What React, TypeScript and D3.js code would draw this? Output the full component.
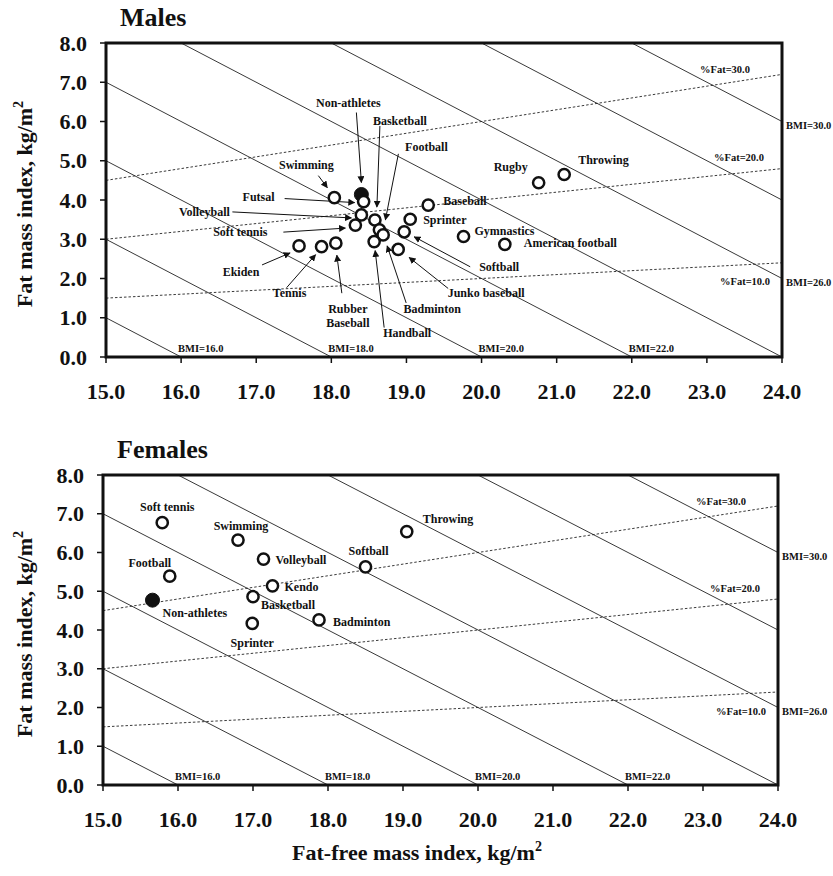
import * as React from 'react'
import * as d3 from 'd3'

// FFMI (x) and FMI (y) in kg/m2
const MALE_SPORTS = [
  'Non-athletes', 'Swimming', 'Futsal', 'Volleyball', 'Soft tennis', 'Basketball', 'Football',
  'Badminton', 'Handball', 'Sprinter', 'Softball', 'Baseball', 'Gymnastics', 'Junko baseball',
  'Ekiden', 'Tennis', 'Rubber baseball', 'American football', 'Rugby', 'Throwing',
]
const MALE_FFMI = [18.40, 18.04, 18.43, 18.40, 18.32, 18.58, 18.64, 18.69, 18.57, 19.05, 18.97, 19.29, 19.76, 18.89, 17.57, 17.87, 18.06, 20.31, 20.76, 21.10]
const MALE_FMI = [4.14, 4.06, 3.96, 3.62, 3.36, 3.49, 3.24, 3.11, 2.94, 3.51, 3.19, 3.87, 3.07, 2.74, 2.83, 2.81, 2.90, 2.87, 4.44, 4.65]

const FEMALE_SPORTS = [
  'Non-athletes', 'Soft tennis', 'Swimming', 'Football', 'Volleyball', 'Kendo', 'Basketball',
  'Sprinter', 'Badminton', 'Softball', 'Throwing',
]
const FEMALE_FFMI = [15.66, 15.79, 16.80, 15.89, 17.14, 17.26, 17.00, 16.99, 17.88, 18.50, 19.05]
const FEMALE_FMI = [4.77, 6.77, 6.32, 5.39, 5.83, 5.14, 4.86, 4.17, 4.26, 5.63, 6.54]

const REFERENCE_GROUP = 'Non-athletes'

// iso-BMI lines (FMI + FFMI = BMI) and %fat lines (FMI = p * FFMI)
const BMI_LINES = [16, 18, 20, 22, 24, 26, 28, 30]
const BMI_BOTTOM_LABELS = [16, 18, 20, 22]
const BMI_RIGHT_LABELS = [26, 30]
const FAT_LINES = [10, 20, 30]

const X_TICKS = d3.range(15, 24.5, 1)
const Y_TICKS = d3.range(0, 8.5, 1)

const FONT = '"Liberation Serif", "Times New Roman", serif'
const fmt = d3.format('.1f')

type LabelSpec = {
  dx: number
  dy: number
  anchor: 'start' | 'middle' | 'end'
  lines?: string[]
  arrow?: [number, number, number, number]
}

// label offsets in px from the point
const MALE_LABELS: Record<string, LabelSpec> = {
  'Non-athletes': { dx: -13, dy: -92, anchor: 'middle', arrow: [-5, -82, 0, -12] },
  'Swimming': { dx: -28, dy: -33, anchor: 'middle', arrow: [-16, -22, -7, -10] },
  'Futsal': { dx: -105, dy: -5, anchor: 'middle', arrow: [-79, -3, -9, 1] },
  'Volleyball': { dx: -157, dy: -3, anchor: 'middle', arrow: [-129, -3, -10, 3] },
  'Soft tennis': { dx: -115, dy: 7, anchor: 'middle', arrow: [-72, 7, -10, 3] },
  'Basketball': { dx: 25, dy: -99, anchor: 'middle', arrow: [5, -94, 2, -13] },
  'Football': { dx: 47, dy: -83, anchor: 'middle', arrow: [19, -76, 6, -10] },
  'Badminton': { dx: 49, dy: 74, anchor: 'middle', arrow: [23, 68, 4, 11] },
  'Handball': { dx: 33, dy: 91, anchor: 'middle', arrow: [10, 86, 1, 9] },
  'Sprinter': { dx: 13, dy: 1, anchor: 'start' },
  'Softball': { dx: 95, dy: 35, anchor: 'middle', arrow: [66, 35, 10, 5] },
  'Baseball': { dx: 15, dy: -4, anchor: 'start' },
  'Gymnastics': { dx: 11, dy: -6, anchor: 'start' },
  'Junko baseball': { dx: 88, dy: 44, anchor: 'middle', arrow: [50, 39, 11, 8] },
  'Ekiden': { dx: -58, dy: 26, anchor: 'middle', arrow: [-37, 19, -9, 7] },
  'Tennis': { dx: -32, dy: 46, anchor: 'middle', arrow: [-35, 41, -6, 8] },
  'Rubber baseball': { dx: 12, dy: 66, anchor: 'middle', lines: ['Rubber', 'Baseball'], arrow: [6, 50, 1, 12] },
  'American football': { dx: 19, dy: -1, anchor: 'start' },
  'Rugby': { dx: -28, dy: -16, anchor: 'middle' },
  'Throwing': { dx: 14, dy: -14, anchor: 'start' },
}

const FEMALE_LABELS: Record<string, LabelSpec> = {
  'Non-athletes': { dx: 10, dy: 13, anchor: 'start' },
  'Soft tennis': { dx: 5, dy: -16, anchor: 'middle' },
  'Swimming': { dx: 3, dy: -14, anchor: 'middle' },
  'Football': { dx: -20, dy: -13, anchor: 'middle' },
  'Volleyball': { dx: 12, dy: 1, anchor: 'start' },
  'Kendo': { dx: 12, dy: 1, anchor: 'start' },
  'Basketball': { dx: 8, dy: 8, anchor: 'start' },
  'Sprinter': { dx: 0, dy: 20, anchor: 'middle' },
  'Badminton': { dx: 14, dy: 2, anchor: 'start' },
  'Softball': { dx: 3, dy: -16, anchor: 'middle' },
  'Throwing': { dx: 16, dy: -13, anchor: 'start' },
}

// where the %fat labels sit relative to the line's right end
const FAT_LABEL_POS: Record<number, { dx: number; dy: number }> = {
  30: { dx: -32, dy: -5 },
  20: { dx: -18, dy: -11 },
  10: { dx: -12, dy: 19 },
}

interface PanelProps {
  id: string
  title: string
  names: string[]
  ffmi: number[]
  fmi: number[]
  labels: Record<string, LabelSpec>
  left: number
  right: number
  top: number
  bottom: number
}

function Panel({ id, title, names, ffmi, fmi, labels, left, right, top, bottom }: PanelProps) {
  const x = d3.scaleLinear().domain([15, 24]).range([left, right])
  const y = d3.scaleLinear().domain([0, 8]).range([bottom, top])
  const [x0, x1] = x.domain()
  const clipId = `clip-${id}`
  const line = d3.line<[number, number]>().x(d => x(d[0])).y(d => y(d[1]))

  return (
    <g fontFamily={FONT} fontWeight="bold" fill="#111">
      <defs>
        <clipPath id={clipId}>
          <rect x={left} y={top} width={right - left} height={bottom - top} />
        </clipPath>
      </defs>

      <text x={left + 14} y={top - 17} fontSize={26}>{title}</text>

      {/* guide lines */}
      <g clipPath={`url(#${clipId})`} fill="none" stroke="#222">
        {BMI_LINES.map(b => (
          <path key={'b' + b} d={line([[x0, b - x0], [x1, b - x1]]) || ''} strokeWidth={0.9} />
        ))}
        {FAT_LINES.map(p => (
          <path key={'f' + p} d={line([[x0, (p / 100) * x0], [x1, (p / 100) * x1]]) || ''}
            strokeWidth={0.9} strokeDasharray="2.5,2" />
        ))}
      </g>

      {BMI_BOTTOM_LABELS.map(b => (
        <text key={'bl' + b} x={x(b) - 3} y={bottom - 5} fontSize={10.5}>{`BMI=${fmt(b)}`}</text>
      ))}
      {BMI_RIGHT_LABELS.map(b => (
        <text key={'br' + b} x={right + 4} y={y(b - x1) + 4} fontSize={10.5} dominantBaseline="central">
          {`BMI=${fmt(b)}`}
        </text>
      ))}
      {FAT_LINES.map(p => (
        <text key={'fl' + p} x={right + FAT_LABEL_POS[p].dx} y={y((p / 100) * x1) + FAT_LABEL_POS[p].dy}
          fontSize={10.5} textAnchor="end" dominantBaseline="central">
          {`%Fat=${fmt(p)}`}
        </text>
      ))}

      {/* frame and axes */}
      <rect x={left} y={top} width={right - left} height={bottom - top} fill="none" stroke="#111" strokeWidth={3} />
      {X_TICKS.map(t => (
        <g key={'xt' + t}>
          <line x1={x(t)} x2={x(t)} y1={bottom} y2={bottom + 6} stroke="#111" strokeWidth={1.5} />
          <text x={x(t)} y={bottom + 42} fontSize={22} textAnchor="middle">{fmt(t)}</text>
        </g>
      ))}
      {Y_TICKS.map(t => (
        <g key={'yt' + t}>
          <line x1={left - 6} x2={left} y1={y(t)} y2={y(t)} stroke="#111" strokeWidth={1.5} />
          <text x={left - 19} y={y(t)} fontSize={22} textAnchor="end" dominantBaseline="central">{fmt(t)}</text>
        </g>
      ))}
      <text transform={`translate(32, ${(top + bottom) / 2 + 4}) rotate(-90)`} fontSize={22} textAnchor="middle">
        Fat mass index, kg/m<tspan fontSize={14} dy={-9}>2</tspan>
      </text>

      {/* arrows */}
      {names.map((n, i) => {
        const s = labels[n]
        if (!s || !s.arrow) return null
        const px = x(ffmi[i])
        const py = y(fmi[i])
        const [ax1, ay1, ax2, ay2] = s.arrow
        return (
          <line key={'a' + n} x1={px + ax1} y1={py + ay1} x2={px + ax2} y2={py + ay2}
            stroke="#111" strokeWidth={1} markerEnd="url(#arrowhead)" />
        )
      })}

      {/* points */}
      {names.map((n, i) => (
        n === REFERENCE_GROUP ? (
          <circle key={'p' + n} cx={x(ffmi[i])} cy={y(fmi[i])} r={7} fill="#111" stroke="#111" strokeWidth={1} />
        ) : (
          <circle key={'p' + n} cx={x(ffmi[i])} cy={y(fmi[i])} r={5.6} fill="#fff" stroke="#111" strokeWidth={2.5} />
        )
      ))}

      {/* labels */}
      {names.map((n, i) => {
        const s = labels[n]
        if (!s) return null
        const px = x(ffmi[i]) + s.dx
        const py = y(fmi[i]) + s.dy
        const lines = s.lines || [n]
        return (
          <text key={'l' + n} x={px} y={py} fontSize={12} textAnchor={s.anchor} dominantBaseline="central">
            {lines.map((t, k) => (
              <tspan key={k} x={px} dy={k === 0 ? 0 : 14}>{t}</tspan>
            ))}
          </text>
        )
      })}
    </g>
  )
}

export default function App() {
  return (
    <svg width={833} height={876} style={{ position: 'absolute', left: 0, top: 0, background: '#fff' }}>
      <defs>
        <marker id="arrowhead" viewBox="0 0 10 10" refX={9} refY={5} markerWidth={7} markerHeight={7}
          markerUnits="userSpaceOnUse" orient="auto">
          <path d="M0,0 L10,5 L0,10 Z" fill="#111" />
        </marker>
      </defs>
      <rect width={833} height={876} fill="#fff" />
      <Panel id="m" title="Males" names={MALE_SPORTS} ffmi={MALE_FFMI} fmi={MALE_FMI} labels={MALE_LABELS}
        left={106} right={782} top={43} bottom={357} />
      <Panel id="f" title="Females" names={FEMALE_SPORTS} ffmi={FEMALE_FFMI} fmi={FEMALE_FMI} labels={FEMALE_LABELS}
        left={103} right={778} top={475} bottom={785} />
      <text x={417} y={860} fontFamily={FONT} fontWeight="bold" fontSize={22} textAnchor="middle" fill="#111">
        Fat-free mass index, kg/m<tspan fontSize={14} dy={-9}>2</tspan>
      </text>
    </svg>
  )
}
